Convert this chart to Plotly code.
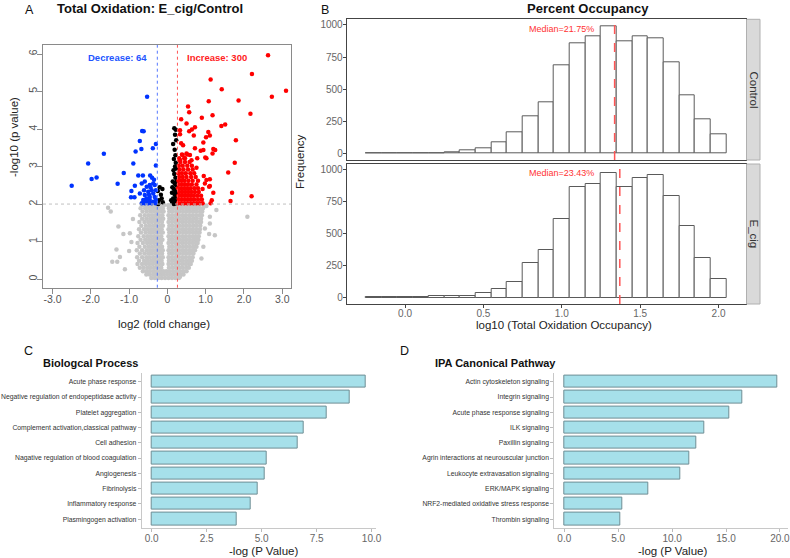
import plotly.graph_objects as go

W, H = 790, 558
def px(x): return x / W
def py(y): return 1 - y / H

# ---------------- Panel A: volcano data ----------------
vol_xticks = [-3, -2, -1, 0, 1, 2, 3]
vol_xtick_text = ['-3.0', '-2.0', '-1.0', '0', '1.0', '2.0', '3.0']
fc_cut = 0.263
p_cut = 2.0

grey_rows = [
    (0.03, [-0.42,-0.33,-0.24,-0.15,-0.06,0.03,0.12,0.21,0.30]),
    (0.12, [-0.55,-0.46,-0.37,-0.28,-0.19,-0.10,-0.01,0.08,0.17,0.26,0.35,0.42]),
    (0.21, [-0.64,-0.55,-0.46,-0.37,-0.28,-0.19,-0.11,-0.03,0.06,0.15,0.24,0.33,0.42,0.50]),
    (0.30, [-0.72,-0.62,-0.52,-0.43,-0.34,-0.25,-0.16,0.04,0.13,0.22,0.31,0.40,0.49,0.56]),
    (0.40, [-0.78,-0.66,-0.56,-0.47,-0.38,-0.29,-0.21,-0.13,0.03,0.12,0.21,0.30,0.39,0.48,0.56,0.61]),
    (0.49, [-0.74,-0.61,-0.51,-0.42,-0.33,-0.24,-0.15,0.04,0.13,0.22,0.31,0.40,0.49,0.57,0.64]),
    (0.58, [-0.79,-0.66,-0.55,-0.46,-0.37,-0.28,-0.19,-0.12,0.03,0.12,0.21,0.30,0.39,0.48,0.57,0.66]),
    (0.68, [-0.72,-0.60,-0.50,-0.41,-0.32,-0.23,-0.14,0.05,0.14,0.23,0.32,0.41,0.50,0.59,0.68]),
    (0.77, [-0.80,-0.66,-0.54,-0.45,-0.36,-0.27,-0.18,-0.12,0.03,0.12,0.21,0.30,0.39,0.48,0.57,0.65,0.72]),
    (0.86, [-0.73,-0.59,-0.49,-0.40,-0.31,-0.22,-0.14,0.05,0.14,0.23,0.32,0.41,0.50,0.59,0.68,0.76]),
    (0.96, [-0.78,-0.64,-0.53,-0.44,-0.35,-0.26,-0.17,0.03,0.12,0.21,0.30,0.39,0.48,0.57,0.66,0.74,0.79]),
    (1.05, [-0.70,-0.58,-0.48,-0.39,-0.30,-0.21,-0.13,0.05,0.14,0.23,0.32,0.41,0.50,0.59,0.68,0.76,0.81]),
    (1.14, [-0.76,-0.62,-0.52,-0.43,-0.34,-0.25,-0.16,0.03,0.12,0.21,0.30,0.39,0.48,0.57,0.66,0.74,0.82]),
    (1.24, [-0.69,-0.57,-0.47,-0.38,-0.29,-0.20,-0.12,0.05,0.14,0.23,0.32,0.41,0.50,0.59,0.68,0.77,0.84]),
    (1.33, [-0.74,-0.61,-0.51,-0.42,-0.33,-0.24,-0.15,0.03,0.12,0.21,0.30,0.39,0.48,0.57,0.66,0.75,0.85]),
    (1.42, [-0.68,-0.56,-0.46,-0.37,-0.28,-0.19,-0.12,0.05,0.14,0.23,0.32,0.41,0.50,0.59,0.68,0.77,0.86]),
    (1.52, [-0.73,-0.60,-0.50,-0.41,-0.32,-0.23,-0.14,0.03,0.12,0.21,0.30,0.39,0.48,0.57,0.66,0.75,0.83,0.88]),
    (1.61, [-0.66,-0.55,-0.45,-0.36,-0.27,-0.18,-0.11,0.05,0.14,0.23,0.32,0.41,0.50,0.59,0.68,0.77,0.88]),
    (1.70, [-0.71,-0.59,-0.49,-0.40,-0.31,-0.22,-0.13,0.03,0.12,0.21,0.30,0.39,0.48,0.57,0.66,0.75,0.84,0.90]),
    (1.80, [-0.65,-0.54,-0.44,-0.35,-0.26,-0.17,-0.10,0.05,0.14,0.23,0.32,0.41,0.50,0.59,0.68,0.77,0.86,0.91]),
    (1.89, [-0.70,-0.58,-0.48,-0.39,-0.30,-0.21,-0.12,0.04,0.13,0.22,0.31,0.40,0.49,0.58,0.67,0.76,0.85,0.93]),
    (1.97, [-0.66,-0.55,-0.45,-0.36,-0.27,-0.18,-0.09,0.02,0.11,0.20,0.29,0.38,0.47,0.56,0.65,0.74,0.83,0.95]),
]
grey_outliers = [(-1.55,1.90),(-1.48,1.80),(-1.28,1.40),(-1.15,1.20),(-0.98,1.22),(-0.94,0.99),
                 (-1.00,0.75),(-1.33,0.79),(-1.24,0.59),(-1.44,0.46),(-1.31,0.46),(-1.11,0.26),
                 (2.09,1.66),(1.28,1.84),(1.24,1.17),(1.09,1.20),(1.11,1.66),(1.11,1.48),
                 (0.89,0.55),(0.94,0.86),(0.33,0.06),(-0.90,1.60),(1.02,1.95),(0.98,1.35)]

blue_pts = [(-2.50,2.49),(-2.07,3.08),(-1.98,2.67),(-1.85,2.71),(-1.66,3.34),(-1.30,2.54),(-1.14,2.83),
            (-0.89,3.08),(-0.83,3.40),(-0.72,3.68),(-0.66,3.95),(-0.62,3.94),(-0.68,3.47),(-0.53,4.86),
            (-0.38,3.49),(-0.30,3.60),(-0.30,3.03),(-0.76,2.76),(-0.64,2.76),(-0.45,2.76),(-0.85,2.49),
            (-0.94,2.35),(-0.95,2.18),(-0.86,2.18),
            (-0.67,2.55),(-0.59,2.60),(-0.54,2.46),(-0.46,2.51),(-0.37,2.55),(-0.33,2.51),(-0.41,2.37),
            (-0.50,2.33),(-0.59,2.24),(-0.37,2.28),(-0.33,2.19),(-0.63,2.11),(-0.54,2.06),(-0.46,2.11),
            (-0.37,2.06),(-0.67,2.02),(-0.59,2.02),(-0.50,2.02),(-0.41,2.02),(-0.30,2.37),(-0.30,2.11),
            (-0.72,2.28),(-0.46,2.19),(-0.61,2.37),(-0.44,2.44),(-0.35,2.65),(-0.40,2.70),(-0.55,2.15),
            (-0.31,2.02),(-0.48,2.25)]

black_pts = [(0.18,4.02),(0.22,3.98),(0.20,3.85),(0.15,3.60),(0.23,3.70),(0.19,3.45),(0.21,3.30),
             (0.17,3.20),(0.22,3.10),(0.20,3.00),(0.16,2.90),(0.23,2.95),(0.18,2.80),(0.21,2.70),
             (0.14,2.60),(0.19,2.55),(0.23,2.50),(0.17,2.40),(0.21,2.35),(0.12,2.30),(0.19,2.25),
             (0.23,2.20),(0.15,2.15),(0.20,2.10),(0.13,2.05),(0.22,2.02),(0.17,2.00),(0.10,2.10),
             (0.24,2.30),(0.24,2.60),(0.13,2.45),
             (-0.20,2.45),(-0.13,2.40),(-0.25,2.35),(-0.17,2.25),(-0.22,2.10),(-0.12,2.05),
             (-0.24,2.00),(-0.15,2.15)]

red_scatter = [(2.63,5.97),(2.21,5.47),(1.13,5.32),(1.42,5.06),(3.10,5.02),(2.73,4.86),(1.86,4.76),
               (1.08,4.74),(0.54,4.60),(0.57,4.45),(2.17,4.41),(1.18,4.37),(0.90,4.30),(0.36,4.26),
               (0.50,4.15),(1.51,4.12),(1.41,4.08),(0.72,4.05),(0.33,3.97),(0.64,3.99),(0.57,3.94),
               (1.07,3.92),(1.11,3.83),(0.33,3.86),(0.69,3.83),(1.01,3.78),(1.79,3.70),(0.94,3.64),
               (0.36,3.62),(0.41,3.57),(0.72,3.49),(0.87,3.42),(1.20,3.47),(1.25,3.44),(1.18,3.35),
               (0.99,3.24),(0.78,3.22),(1.76,3.10),(1.59,2.84),(1.69,2.30),(1.65,2.08),(2.20,2.21),
               (1.20,2.30),(1.16,2.10),(1.13,2.02),(1.09,2.46),(1.02,2.64),(1.11,2.66),(1.11,2.48),
               (0.95,2.75),(0.98,2.55),(0.92,2.40),(0.50,3.35),(0.59,3.31),(0.40,3.31),(0.46,3.22),
               (0.63,3.17),(0.76,2.97),(0.94,3.44),(1.02,3.22),(0.33,3.17)]
red_rows = [
    (2.02, [0.28,0.36,0.44,0.52,0.60,0.68,0.76,0.84,0.92]),
    (2.12, [0.30,0.38,0.46,0.54,0.62,0.70,0.80,0.90]),
    (2.22, [0.29,0.37,0.45,0.53,0.61,0.69,0.78,0.88]),
    (2.32, [0.31,0.39,0.47,0.55,0.63,0.72,0.82]),
    (2.42, [0.28,0.36,0.44,0.52,0.60,0.70,0.80]),
    (2.52, [0.30,0.38,0.46,0.54,0.64,0.76]),
    (2.62, [0.29,0.37,0.45,0.55,0.66,0.80]),
    (2.72, [0.31,0.40,0.50,0.62,0.74]),
    (2.82, [0.29,0.38,0.48,0.60,0.70]),
    (2.92, [0.32,0.42,0.54,0.66]),
    (3.02, [0.30,0.40,0.52,0.64]),
    (3.12, [0.34,0.46,0.58]),
    (3.22, [0.31,0.44]),
    (3.32, [0.38,0.52]),
]

# ---------------- Panel B: histogram data ----------------
bin_centers = [-0.2,-0.1,0.0,0.1,0.2,0.3,0.4,0.5,0.6,0.7,0.8,0.9,1.0,1.1,1.2,1.3,1.4,1.5,1.6,1.7,1.8,1.9,2.0]
control_counts = [1,0,0,3,3,10,23,42,86,161,291,397,683,857,914,990,870,914,899,709,452,265,148]
ecig_counts = [1,2,2,6,12,13,13,36,65,120,268,371,613,860,886,969,860,930,956,790,556,306,145]
median_control = 1.337   # log10(21.75)
median_ecig = 1.370      # log10(23.43)
median_labels = ['Median=21.75%', 'Median=23.43%']
facet_labels = ['Control', 'E_cig']

# ---------------- Panel C / D: bar data ----------------
bp_terms = ['Acute phase response', 'Negative regulation of endopeptidase activity', 'Platelet aggregation',
            'Complement activation,classical pathway', 'Cell adhesion', 'Nagative regulation of blood coagulation',
            'Angiogenesis', 'Fibrinolysis', 'Inflammatory response', 'Plasmingogen activation']
bp_values = [9.73, 9.01, 7.95, 6.92, 6.63, 5.23, 5.16, 4.80, 4.51, 3.86]

ipa_terms = ['Actin cytoskeleton signaling', 'Integrin signaling', 'Acute phase response signaling',
             'ILK signaling', 'Paxillin signaling', 'Agrin interactions at neurouscular junction',
             'Leukocyte extravasation signaling', 'ERK/MAPK signaling',
             'NRF2-mediated oxidative stress response', 'Thrombin signaling']
ipa_values = [19.76, 16.51, 15.31, 12.99, 12.22, 11.60, 10.80, 7.79, 5.35, 5.23]

# ---------------- build ----------------
FONT = 'Liberation Sans, Arial, sans-serif'

fig = go.Figure()

gx = [x for y, xs in grey_rows for x in xs] + [p[0] for p in grey_outliers]
gy = [y for y, xs in grey_rows for x in xs] + [p[1] for p in grey_outliers]
rx = [p[0] for p in red_scatter] + [x for y, xs in red_rows for x in xs]
ry = [p[1] for p in red_scatter] + [y for y, xs in red_rows for x in xs]

def pts(xs, ys, color):
    return go.Scatter(x=xs, y=ys, mode='markers', xaxis='x', yaxis='y',
                      marker=dict(color=color, size=4.5, line=dict(width=0)),
                      hoverinfo='skip', showlegend=False)

fig.add_trace(pts(gx, gy, '#c6c6c6'))
fig.add_trace(pts([p[0] for p in black_pts], [p[1] for p in black_pts], '#000000'))
fig.add_trace(pts(rx, ry, '#ff0000'))
fig.add_trace(pts([p[0] for p in blue_pts], [p[1] for p in blue_pts], '#0033ff'))

hist_line = dict(color='#5a5a5a', width=1)
fig.add_trace(go.Bar(x=bin_centers, y=control_counts, width=0.1, xaxis='x2', yaxis='y2',
                     marker=dict(color='white', line=hist_line), showlegend=False))
fig.add_trace(go.Bar(x=bin_centers, y=ecig_counts, width=0.1, xaxis='x3', yaxis='y3',
                     marker=dict(color='white', line=hist_line), showlegend=False))

bar_marker = dict(color='#a6e0ea', line=dict(color='#6e8e94', width=1))
fig.add_trace(go.Bar(y=bp_terms, x=bp_values, orientation='h', width=0.8, xaxis='x4', yaxis='y4',
                     marker=bar_marker, showlegend=False))
fig.add_trace(go.Bar(y=ipa_terms, x=ipa_values, orientation='h', width=0.8, xaxis='x5', yaxis='y5',
                     marker=bar_marker, showlegend=False))

tickfont = dict(family=FONT, size=10, color='#666666')
bar_dom_y = [py(528.3), py(372.6)]
catfont = dict(family=FONT, size=6.8, color='#333')

fig.update_layout(
    width=W, height=H, margin=dict(l=0, r=0, t=0, b=0, autoexpand=False),
    paper_bgcolor='white', plot_bgcolor='white', bargap=0,
    font=dict(family=FONT, color='#222'),
    # volcano
    xaxis=dict(domain=[px(43), px(291)], range=[-3.25, 3.23], anchor='y', automargin=False,
               tickvals=vol_xticks, ticktext=vol_xtick_text, tickfont=dict(family=FONT, size=10.5, color='#555'),
               showline=True, mirror=True, linecolor='#8a8a8a', linewidth=1, ticklabelstandoff=-3,
               ticks='outside', ticklen=5, tickcolor='#8a8a8a', showgrid=False, zeroline=False),
    yaxis=dict(domain=[py(287.7), py(45)], range=[-0.23, 6.24], anchor='x', dtick=1, automargin=False,
               tickangle=-90, tickfont=dict(family=FONT, size=10.5, color='#555'), ticklabelstandoff=-4,
               showline=True, mirror=True, linecolor='#8a8a8a', linewidth=1,
               ticks='outside', ticklen=5, tickcolor='#8a8a8a', showgrid=False, zeroline=False),
    # histogram top
    xaxis2=dict(domain=[px(346.7), px(746)], range=[-0.372, 2.175], anchor='y2', automargin=False,
                showticklabels=False, ticks='', showline=True, mirror=True, linecolor='#444',
                showgrid=False, zeroline=False),
    yaxis2=dict(domain=[py(160), py(19.3)], range=[-52, 1044], anchor='x2', automargin=False,
                tickvals=[0, 250, 500, 750, 1000], tickfont=tickfont, ticks='outside', ticklen=3,
                ticklabelstandoff=-2,
                tickcolor='#444', showline=True, mirror=True, linecolor='#444', showgrid=False, zeroline=False),
    # histogram bottom
    xaxis3=dict(domain=[px(346.7), px(746)], range=[-0.372, 2.175], anchor='y3', automargin=False,
                tickvals=[0, 0.5, 1.0, 1.5, 2.0], tickformat='.1f', tickfont=tickfont, ticks='outside',
                ticklen=3, tickcolor='#444', showline=True, mirror=True, linecolor='#444',
                ticklabelstandoff=-3, showgrid=False, zeroline=False),
    yaxis3=dict(domain=[py(304), py(164)], range=[-50, 1042], anchor='x3', automargin=False,
                tickvals=[0, 250, 500, 750, 1000], tickfont=tickfont, ticks='outside', ticklen=3,
                ticklabelstandoff=-2,
                tickcolor='#444', showline=True, mirror=True, linecolor='#444', showgrid=False, zeroline=False),
    # bar C
    xaxis4=dict(domain=[px(141.7), px(376)], range=[-0.455, 10.2], anchor='y4', dtick=2.5, tickformat='.1f',
                automargin=False, tickfont=tickfont, ticks='outside', ticklen=3, tickcolor='#bbb',
                ticklabelstandoff=-2,
                showline=True, linecolor='#c8c8c8', showgrid=False, zeroline=False),
    yaxis4=dict(domain=bar_dom_y, type='category', categoryorder='array', categoryarray=bp_terms,
                range=[9.6, -0.6], anchor='x4', automargin=False, tickfont=catfont,
                ticks='outside', ticklen=3, tickcolor='#bbb', showline=True, linecolor='#c8c8c8',
                showgrid=False),
    # bar D
    xaxis5=dict(domain=[px(554.3), px(788)], range=[-0.93, 20.75], anchor='y5', dtick=5, tickformat='.1f',
                automargin=False, tickfont=tickfont, ticks='outside', ticklen=3, tickcolor='#bbb',
                ticklabelstandoff=-2, ticklabeloverflow='allow',
                showline=True, linecolor='#c8c8c8', showgrid=False, zeroline=False),
    yaxis5=dict(domain=bar_dom_y, type='category', categoryorder='array', categoryarray=ipa_terms,
                range=[9.6, -0.6], anchor='x5', automargin=False, tickfont=catfont,
                ticks='outside', ticklen=3, tickcolor='#bbb', showline=True, linecolor='#c8c8c8',
                showgrid=False),
)

shapes = [
    dict(type='line', xref='x', yref='y domain', x0=-fc_cut, x1=-fc_cut, y0=0, y1=1,
         line=dict(color='#5577ff', width=1, dash='dot')),
    dict(type='line', xref='x', yref='y domain', x0=fc_cut, x1=fc_cut, y0=0, y1=1,
         line=dict(color='#ff5555', width=1, dash='dot')),
    dict(type='line', xref='x domain', yref='y', x0=0, x1=1, y0=p_cut, y1=p_cut,
         line=dict(color='#c0c0c0', width=1, dash='dot')),
    dict(type='line', xref='x2', yref='y2 domain', x0=median_control, x1=median_control, y0=0, y1=1,
         line=dict(color='#ff5555', width=1.5, dash='dash')),
    dict(type='line', xref='x3', yref='y3 domain', x0=median_ecig, x1=median_ecig, y0=0, y1=1,
         line=dict(color='#ff5555', width=1.5, dash='dash')),
    dict(type='rect', xref='paper', yref='paper', x0=px(746.5), x1=px(760), y0=py(160), y1=py(19.3),
         fillcolor='#d9d9d9', line=dict(color='#b0b0b0', width=1)),
    dict(type='rect', xref='paper', yref='paper', x0=px(746.5), x1=px(760), y0=py(304), y1=py(164),
         fillcolor='#d9d9d9', line=dict(color='#b0b0b0', width=1)),
]
fig.update_layout(shapes=shapes)

def ann(text, x, y, size, color='#111', bold=False, angle=0, xanchor='center', family=FONT):
    return dict(text=('<b>%s</b>' % text) if bold else text, x=px(x), y=py(y), xref='paper', yref='paper',
                showarrow=False, xanchor=xanchor, yanchor='middle', textangle=angle,
                font=dict(family=family, size=size, color=color))

annotations = [
    ann('A', 29, 10, 12.5),
    ann('Total Oxidation: E_cig/Control', 55, 8, 13, bold=True, xanchor='left'),
    ann('-log10 (p value)', 14, 137, 11.5, color='#222', angle=-90),
    ann('log2 (fold change)', 164, 324, 11.5, color='#222'),
    dict(text='<b>Decrease: 64</b>', x=-1.30, y=5.91, xref='x', yref='y', showarrow=False,
         font=dict(family=FONT, size=9.5, color='#2255ff')),
    dict(text='<b>Increase: 300</b>', x=1.29, y=5.91, xref='x', yref='y', showarrow=False,
         font=dict(family=FONT, size=9.5, color='#ff2222')),
    ann('B', 325, 10, 12.5),
    ann('Percent Occupancy', 588, 8, 13, bold=True),
    ann('Frequency', 300, 162, 11.5, color='#222', angle=-90),
    ann('log10 (Total Oxidation Occupancy)', 564, 325, 11.5, color='#222'),
    ann(facet_labels[0], 753.5, 90, 11.5, color='#333', angle=90),
    ann(facet_labels[1], 753.5, 234, 11.5, color='#333', angle=90),
    dict(text=median_labels[0], x=1.0, y=970, xref='x2', yref='y2', showarrow=False,
         font=dict(family=FONT, size=9, color='#ff3333')),
    dict(text=median_labels[1], x=1.0, y=973, xref='x3', yref='y3', showarrow=False,
         font=dict(family=FONT, size=9, color='#ff3333')),
    ann('C', 28, 351, 12.5),
    ann('Biologcal Process', 41, 363, 11, bold=True, xanchor='left'),
    ann('-log (P Value)', 263, 551, 11.5, color='#222'),
    ann('D', 405, 351, 12.5),
    ann('IPA Canonical Pathway', 433, 363, 11, bold=True, xanchor='left'),
    ann('-log (P Value)', 672, 551, 11.5, color='#222'),
]
fig.update_layout(annotations=annotations)

fig.write_html('out.html', config={'displayModeBar': False},
               post_script="document.body.style.margin='0px';")
